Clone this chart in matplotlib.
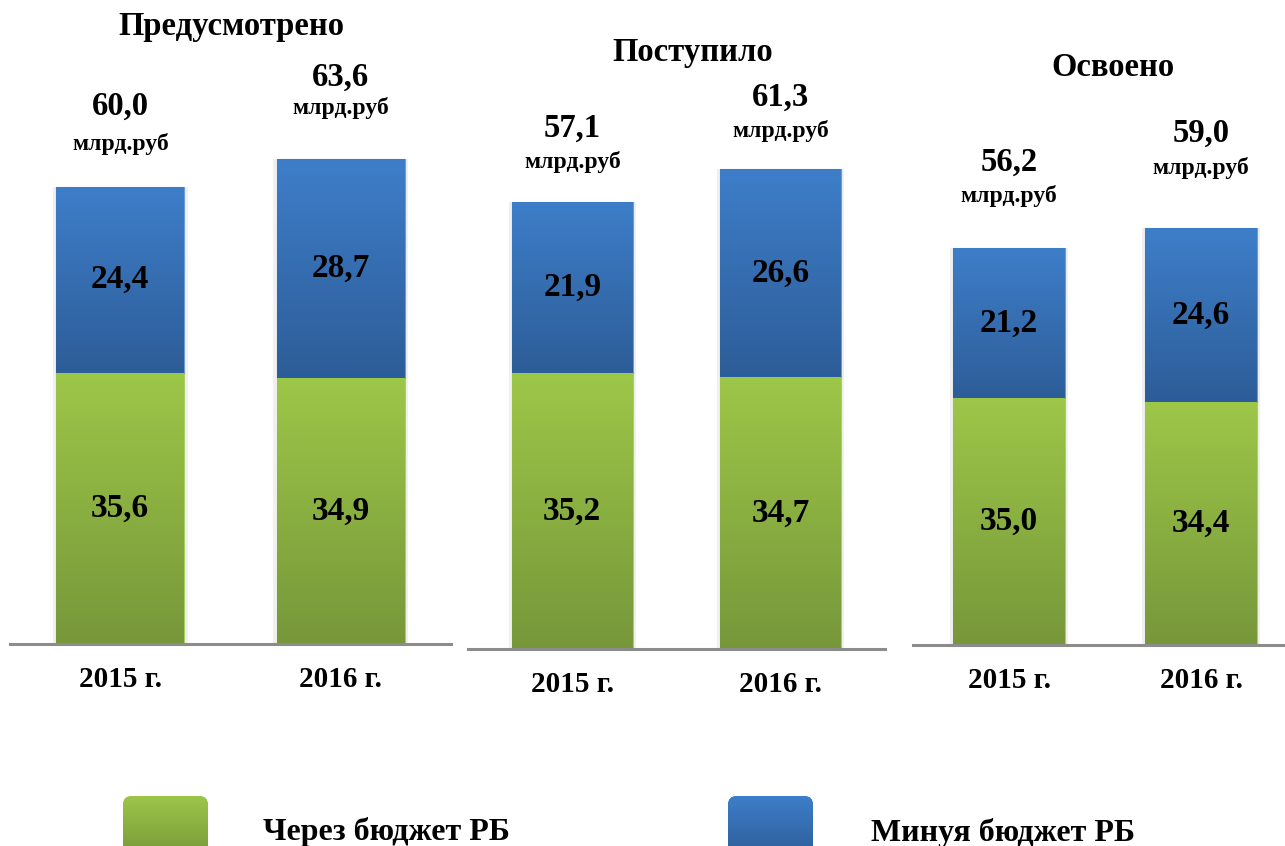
import numpy as np
import matplotlib
matplotlib.use("Agg")
import matplotlib.pyplot as plt
from matplotlib.patches import FancyBboxPatch
from matplotlib.colors import LinearSegmentedColormap

# ---------------- data ----------------
panel_titles = ["Предусмотрено", "Поступило", "Освоено"]
years = ["2015 г.", "2016 г."]
through_rb = [[35.6, 34.9], [35.2, 34.7], [35.0, 34.4]]   # Через бюджет РБ
bypass_rb = [[24.4, 28.7], [21.9, 26.6], [21.2, 24.6]]    # Минуя бюджет РБ
totals = [[60.0, 63.6], [57.1, 61.3], [56.2, 59.0]]
unit = "млрд.руб"
legend_labels = ["Через бюджет РБ", "Минуя бюджет РБ"]

# ---------------- layout ----------------
W, H = 1285, 846
DPI = 100
FONT = ["Liberation Serif", "DejaVu Serif"]
# axes pixel boxes: (left, right, baseline y, pixels per unit)
axes_px = [(10, 451, 644, 7.62), (468, 885, 649, 7.83), (913, 1297, 645, 7.06)]
title_px = [(231, 27), (693, 52), (1113, 68)]
bar_width = 0.58
# offsets (px) of total value / unit labels above bar tops
val_off = [[81, 82], [74, 72], [86, 95]]
unit_off = [[43, 51], [40, 38], [52, 60]]

green_top, green_bot = "#9DC748", "#77973A"
blue_top, blue_bot = "#3E7EC9", "#2D5D98"

fig = plt.figure(figsize=(W / DPI, H / DPI), dpi=DPI)
fig.patch.set_facecolor("white")


def fx(x):
    return x / W


def fy(y):
    return 1 - y / H


def grad_fill(ax, patch, ctop, cbot):
    x0, y0 = patch.get_x(), patch.get_y()
    w, h = patch.get_width(), patch.get_height()
    cmap = LinearSegmentedColormap.from_list("g", [cbot, ctop])
    grad = np.linspace(0, 1, 256).reshape(-1, 1)
    im = ax.imshow(grad, cmap=cmap, extent=(x0, x0 + w, y0, y0 + h),
                   origin="lower", aspect="auto", zorder=patch.get_zorder() + 0.1)
    im.set_clip_path(patch)


for i in range(3):
    left, right, base, ppu = axes_px[i]
    ax = fig.add_axes([fx(left), fy(base), (right - left) / W, base / H])
    ax.set_xlim(-0.5, 1.5)
    ax.set_ylim(0, base / ppu)
    ax.set_facecolor("none")
    for s in ["top", "left", "right"]:
        ax.spines[s].set_visible(False)
    ax.spines["bottom"].set_color("#8C8C8C")
    ax.spines["bottom"].set_linewidth(2.2)
    ax.spines["bottom"].set_zorder(6)
    ax.set_yticks([])
    ax.set_xticks([0, 1])
    ax.set_xticklabels(years, fontsize=21, fontweight="bold", family=FONT)
    ax.tick_params(axis="x", length=0, pad=16)

    x = np.arange(2)
    # soft shadow
    ax.bar(x, totals[i], width=bar_width + 0.03, color="#000000", alpha=0.06,
           linewidth=0, zorder=1)
    g = ax.bar(x, through_rb[i], width=bar_width, color=green_top,
               edgecolor="#A8D060", linewidth=0.8, zorder=2)
    b = ax.bar(x, bypass_rb[i], width=bar_width, bottom=through_rb[i],
               color=blue_top, edgecolor="#6E9BD6", linewidth=0.8, zorder=2)
    for p in g:
        grad_fill(ax, p, green_top, green_bot)
    for p in b:
        grad_fill(ax, p, blue_top, blue_bot)

    for j in range(2):
        ax.text(x[j], through_rb[i][j] / 2, f"{through_rb[i][j]:.1f}".replace(".", ","),
                ha="center", va="center", fontsize=24, fontweight="bold",
                family=FONT, zorder=5)
        ax.text(x[j], through_rb[i][j] + bypass_rb[i][j] / 2,
                f"{bypass_rb[i][j]:.1f}".replace(".", ","),
                ha="center", va="center", fontsize=24, fontweight="bold",
                family=FONT, zorder=5)
        top = through_rb[i][j] + bypass_rb[i][j]
        ax.annotate(f"{totals[i][j]:.1f}".replace(".", ","), (x[j], top),
                    xytext=(0, val_off[i][j] * 72 / DPI), textcoords="offset points",
                    ha="center", va="center", fontsize=23.5, fontweight="bold",
                    family=FONT, annotation_clip=False)
        ax.annotate(unit, (x[j], top),
                    xytext=(0, unit_off[i][j] * 72 / DPI), textcoords="offset points",
                    ha="center", va="center", fontsize=17, fontweight="bold",
                    family=FONT, annotation_clip=False)

    tx, ty = title_px[i]
    fig.text(fx(tx), fy(ty), panel_titles[i], ha="center", va="center",
             fontsize=23.5, fontweight="bold", family=FONT)

# ---------------- legend ----------------
leg_boxes = [(123, 796), (728, 796)]
leg_text = [(386, 832), (1003, 833)]
leg_cols = [(green_top, green_bot), (blue_top, blue_bot)]
lax = fig.add_axes([0, 0, 1, 1])
lax.set_xlim(0, W)
lax.set_ylim(H, 0)
lax.axis("off")
for k in range(2):
    bx, by = leg_boxes[k]
    patch = FancyBboxPatch((bx, by), 85, 62, boxstyle="round,pad=0,rounding_size=9",
                           facecolor=leg_cols[k][0], edgecolor="none", zorder=1)
    lax.add_patch(patch)
    cmap = LinearSegmentedColormap.from_list("l", [leg_cols[k][0], leg_cols[k][1]])
    im = lax.imshow(np.linspace(0, 1, 256).reshape(-1, 1), cmap=cmap,
                    extent=(bx, bx + 85, by + 62, by), origin="upper", aspect="auto",
                    zorder=2)
    im.set_clip_path(patch)
    lax.text(leg_text[k][0], leg_text[k][1], legend_labels[k], ha="center", va="center",
             fontsize=23, fontweight="bold", family=FONT)
lax.set_xlim(0, W)
lax.set_ylim(H, 0)

fig.savefig("out.png", dpi=DPI)
